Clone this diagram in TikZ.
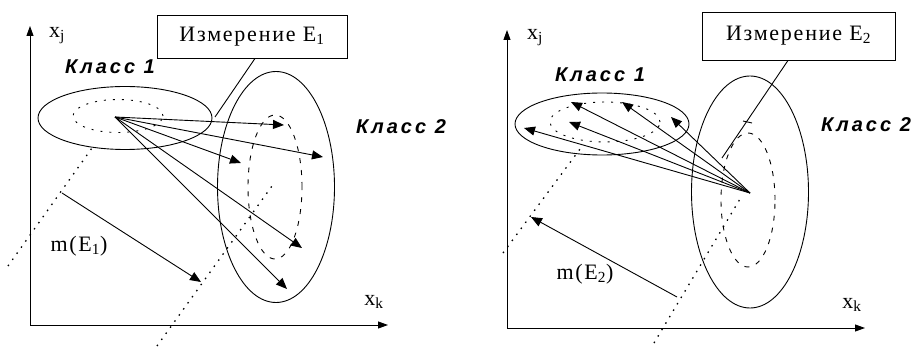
\documentclass[tikz,border=0pt]{standalone}
\usepackage{fontspec}
\usetikzlibrary{arrows.meta,shapes.geometric}
\setmainfont{Liberation Serif}
\newfontfamily\labfont{Liberation Serif}[LetterSpace=8]
\newfontfamily\klassfont{Liberation Sans}[LetterSpace=15]
\begin{document}
\begin{tikzpicture}[x=1pt,y=-1pt,
  ln/.style={line width=0.9pt},
  axis/.style={ln,-{Triangle[length=10pt,width=7pt]}},
  arr/.style={ln,-{Triangle[length=11pt,width=9pt]}},
  cls/.style={ellipse,draw,ln,inner sep=0pt},
  inner/.style={ellipse,draw,line width=0.9pt,dash pattern=on 5pt off 7pt,inner sep=0pt},
  innerdot/.style={ellipse,draw,line width=0.9pt,dash pattern=on 2pt off 7pt,inner sep=0pt},
  proj/.style={line width=1.3pt,dash pattern=on 1.5pt off 6pt},
  boxnode/.style={draw,ln,inner sep=0pt,font=\labfont\fontsize{22}{24}\selectfont},
  lab/.style={font=\labfont\fontsize{22}{24}\selectfont,inner sep=0pt},
  klass/.style={font=\klassfont\bfseries\itshape\fontsize{20}{22}\selectfont,inner sep=0pt}
]
\useasboundingbox (0,0) rectangle (915,347);
% ================= LEFT PANEL =================
\coordinate (oA) at (30,325);
\coordinate (yA) at (30,26);
\coordinate (xA) at (388,325);
\draw[axis] (oA) -- (yA);
\draw[axis] (oA) -- (xA);
\node[lab] (xjA) at (57,36) {x\textsubscript{j}};
\node[lab] (xkA) at (374,302) {x\textsubscript{k}};
\node[boxnode,minimum width=190pt,minimum height=43pt] (boxA) at (252,36.5) {Измерение E\textsubscript{1}};
\node[klass] (k1A) at (110,67) {Класс 1};
\node[klass] (k2A) at (401,127) {Класс 2};
\node[cls,minimum width=174pt,minimum height=63pt] (c1A) at (125,118) {};
\node[innerdot,minimum width=90pt,minimum height=33pt] (i1A) at (118,116) {};
\node[cls,minimum width=117pt,minimum height=231pt] (c2A) at (276,187) {};
\node[inner,minimum width=54pt,minimum height=144pt] (i2A) at (275,187) {};
% leader
\coordinate (lA) at (215,117);
\draw[ln] (boxA.south -| 255,0) -- (lA);
% projection lines
\coordinate (pA1) at (8,266);
\coordinate (pA2) at (92,148);
\coordinate (pB1) at (157,346);
\coordinate (pB2) at (272,186);
\draw[proj] (pA1) -- (pA2);
\draw[proj] (pB1) -- (pB2);
% m(E1)
\coordinate (mA1) at (62,193);
\coordinate (mA2) at (201,282);
\draw[arr] (mA1) -- (mA2);
\node[lab] (mlA) at (79,246) {m(E\textsubscript{1})};
% arrows from source
\coordinate (sA) at (115,117);
\coordinate (tA1) at (284,125);
\coordinate (tA2) at (323,157);
\coordinate (tA3) at (241,163);
\coordinate (tA4) at (302,248);
\coordinate (tA5) at (287,289);
\foreach \t in {tA1,tA2,tA3,tA4,tA5} \draw[arr] (sA) -- (\t);
% ================= RIGHT PANEL =================
\coordinate (oB) at (507,328);
\coordinate (yB) at (507,30);
\coordinate (xB) at (865,328);
\draw[axis] (oB) -- (yB);
\draw[axis] (oB) -- (xB);
\node[lab] (xjB) at (535,38) {x\textsubscript{j}};
\node[lab] (xkB) at (852,305) {x\textsubscript{k}};
\node[boxnode,minimum width=193pt,minimum height=48pt] (boxB) at (798.5,36) {Измерение E\textsubscript{2}};
\node[klass] (k1B) at (600,75) {Класс 1};
\node[klass] (k2B) at (866,125) {Класс 2};
\node[cls,minimum width=174pt,minimum height=62pt] (c1B) at (602,124) {};
\node[innerdot,minimum width=110pt,minimum height=40pt] (i1B) at (605,122) {};
\node[cls,minimum width=117pt,minimum height=232pt] (c2B) at (750,192) {};
\node[inner,minimum width=54pt,minimum height=134pt] (i2B) at (748,200) {};
% leader
\coordinate (lB) at (722,158);
\coordinate (hB1) at (743,121);
\coordinate (hB2) at (752,123);
\draw[ln] (boxB.south -| 788,0) -- (lB);
\draw[ln] (hB1) -- (hB2);
% projection lines
\coordinate (pC1) at (503,253);
\coordinate (pC2) at (580,149);
\coordinate (pD1) at (654,343);
\coordinate (pD2) at (740,199);
\draw[proj] (pC1) -- (pC2);
\draw[proj] (pD1) -- (pD2);
% m(E2)
\coordinate (mB1) at (677,297);
\coordinate (mB2) at (531,217);
\draw[arr] (mB1) -- (mB2);
\node[lab] (mlB) at (585,274) {m(E\textsubscript{2})};
% arrows from source
\coordinate (sB) at (750,193);
\coordinate (tB1) at (571,102);
\coordinate (tB2) at (622,102);
\coordinate (tB3) at (671,117);
\coordinate (tB4) at (569,122);
\coordinate (tB5) at (524,128);
\foreach \t in {tB1,tB2,tB3,tB4,tB5} \draw[arr] (sB) -- (\t);
\end{tikzpicture}
\end{document}
